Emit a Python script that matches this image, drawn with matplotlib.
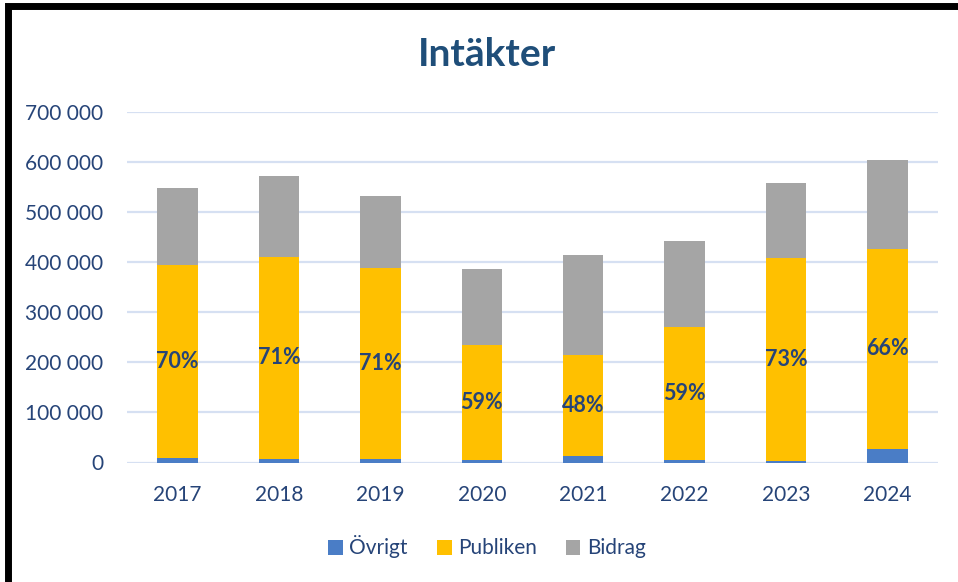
import matplotlib
matplotlib.use("Agg")
from matplotlib import pyplot as plt
from matplotlib.patches import Rectangle
import numpy as np

years = ["2017", "2018", "2019", "2020", "2021", "2022", "2023", "2024"]
ovrigt = [9300, 7300, 7300, 5300, 13300, 5300, 3300, 27300]
publiken = [385000, 403000, 381000, 229000, 201000, 265000, 405000, 399000]
bidrag = [154000, 162000, 144000, 152000, 200000, 172000, 150000, 178000]
pct_labels = ["70%", "71%", "71%", "59%", "48%", "59%", "73%", "66%"]

text_col = "#264478"
plt.rcParams["font.family"] = ["Lato", "DejaVu Sans"]

fig = plt.figure(figsize=(9.58, 5.82), dpi=100)
ax = fig.add_axes([127 / 958, 1 - 462.5 / 582, (938 - 127) / 958, (462.5 - 112) / 582])

x = np.arange(len(years))
w = 0.40
ovr = np.array(ovrigt)
pub = np.array(publiken)
bid = np.array(bidrag)
ax.bar(x, ovr, w, color="#4A7DC6", label="Övrigt", zorder=3)
ax.bar(x, pub, w, bottom=ovr, color="#FFC000", label="Publiken", zorder=3)
ax.bar(x, bid, w, bottom=ovr + pub, color="#A5A5A5", label="Bidrag", zorder=3)

for xi, b, p, lab in zip(x, ovr, pub, pct_labels):
    ax.text(xi, b + p / 2, lab, ha="center", va="center", fontsize=15.5,
            fontweight="bold", color=text_col, zorder=4)

ax.set_xlim(-0.5, len(years) - 0.5)
ax.set_ylim(0, 700000)
ax.set_yticks(np.arange(0, 700001, 100000))
ax.set_yticklabels([f"{v:,}".replace(",", " ") for v in range(0, 700001, 100000)])
ax.set_xticks(x)
ax.set_xticklabels(years)
ax.tick_params(length=0, labelsize=15, colors=text_col)
ax.tick_params(axis="y", pad=17)
ax.tick_params(axis="x", pad=16)
ax.grid(axis="y", color="#D6E0F2", linewidth=1.6, zorder=0)
for s in ax.spines.values():
    s.set_visible(False)

fig.text(487 / 958, 1 - 55 / 582, "Intäkter", ha="center", va="center",
         fontsize=28, fontweight="bold", color="#1F4E79")

leg = fig.legend(loc="center", bbox_to_anchor=(487 / 958, 1 - 547 / 582), ncol=3,
                 frameon=False, fontsize=15, handlelength=0.7, handleheight=0.7,
                 handletextpad=0.3, columnspacing=1.4)
for t in leg.get_texts():
    t.set_color(text_col)

fig.patches.append(Rectangle((8 / 958, -0.1), 1.1, 1 - 6 / 582 + 0.1,
                             transform=fig.transFigure, fill=False,
                             edgecolor="black", linewidth=5))

fig.savefig("out.png", dpi=100)
